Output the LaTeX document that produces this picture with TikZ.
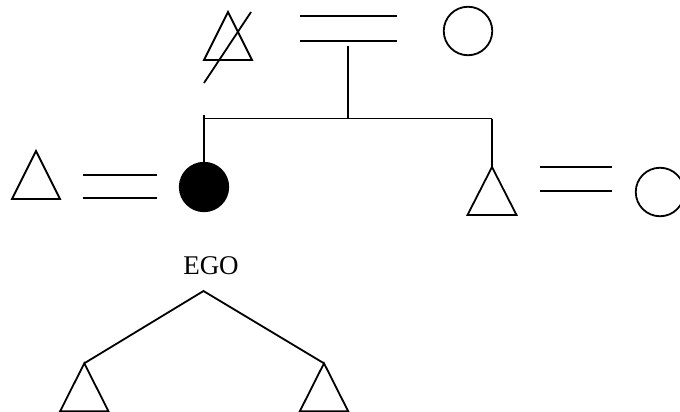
\documentclass[tikz,border=0pt]{standalone}
\usepackage{fontspec}
\setmainfont{Liberation Serif}
\begin{document}
\begin{tikzpicture}[x=1pt,y=-1pt,
  line width=1.8pt,
  person/.style={circle,draw,inner sep=0pt,minimum size=48.5pt,line width=1.8pt},
  filled/.style={person,fill=black},
  label text/.style={font=\fontsize{27}{30}\selectfont,inner sep=0pt}]
\useasboundingbox (0,0) rectangle (680,412);
\clip (0,0) rectangle (680,412);

% top generation
\coordinate (ft) at (228,12);
\draw (ft) -- ++(-24,48) -- ++(48,0) -- cycle;
\coordinate (slashA) at (251,12);
\coordinate (slashB) at (204,83);
\draw (slashA) -- (slashB);
\coordinate (te1a) at (300,16);   \coordinate (te1b) at (397,16);
\coordinate (te2a) at (300,40.7); \coordinate (te2b) at (397,40.7);
\draw (te1a) -- (te1b);
\draw (te2a) -- (te2b);
\node[person] (mo) at (468,31) {};

% sibling line
\coordinate (desc) at (348,46.5);
\coordinate (sib) at (348,118.5);
\draw (desc) -- (sib);
\coordinate (sibL) at (204,118.5);
\coordinate (sibR) at (492,118.5);
\coordinate (tickL) at (204,115);
\draw (sibL) -- (sibR);

% ego
\node[filled] (ego) at (204,187) {};
\draw (tickL) -- (ego.north);

% ego spouse
\coordinate (hs) at (36,151);
\draw (hs) -- ++(-24,48) -- ++(48,0) -- cycle;
\coordinate (le1a) at (83,175);   \coordinate (le1b) at (157,175);
\coordinate (le2a) at (83,198.3); \coordinate (le2b) at (157,198.3);
\draw (le1a) -- (le1b);
\draw (le2a) -- (le2b);

% brother
\coordinate (br) at (492,167);
\draw (br) -- ++(-24.5,48) -- ++(49,0) -- cycle;
\draw (sibR) -- (br);
\coordinate (re1a) at (540,167);   \coordinate (re1b) at (612,167);
\coordinate (re2a) at (540,190.7); \coordinate (re2b) at (612,190.7);
\draw (re1a) -- (re1b);
\draw (re2a) -- (re2b);
\node[person] (bw) at (660,192) {};

% EGO label and tree
\node[label text] (egolabel) at (211,265.5) {EGO};
\coordinate (top) at (203.5,291);
\coordinate (cl) at (84.3,363.3);
\coordinate (cr) at (324,363.3);
\draw (cl) -- (top) -- (cr);
\draw (cl) -- ++(-24.2,48) -- ++(48.4,0) -- cycle;
\draw (cr) -- ++(-24.2,48) -- ++(48.4,0) -- cycle;
\end{tikzpicture}
\end{document}
